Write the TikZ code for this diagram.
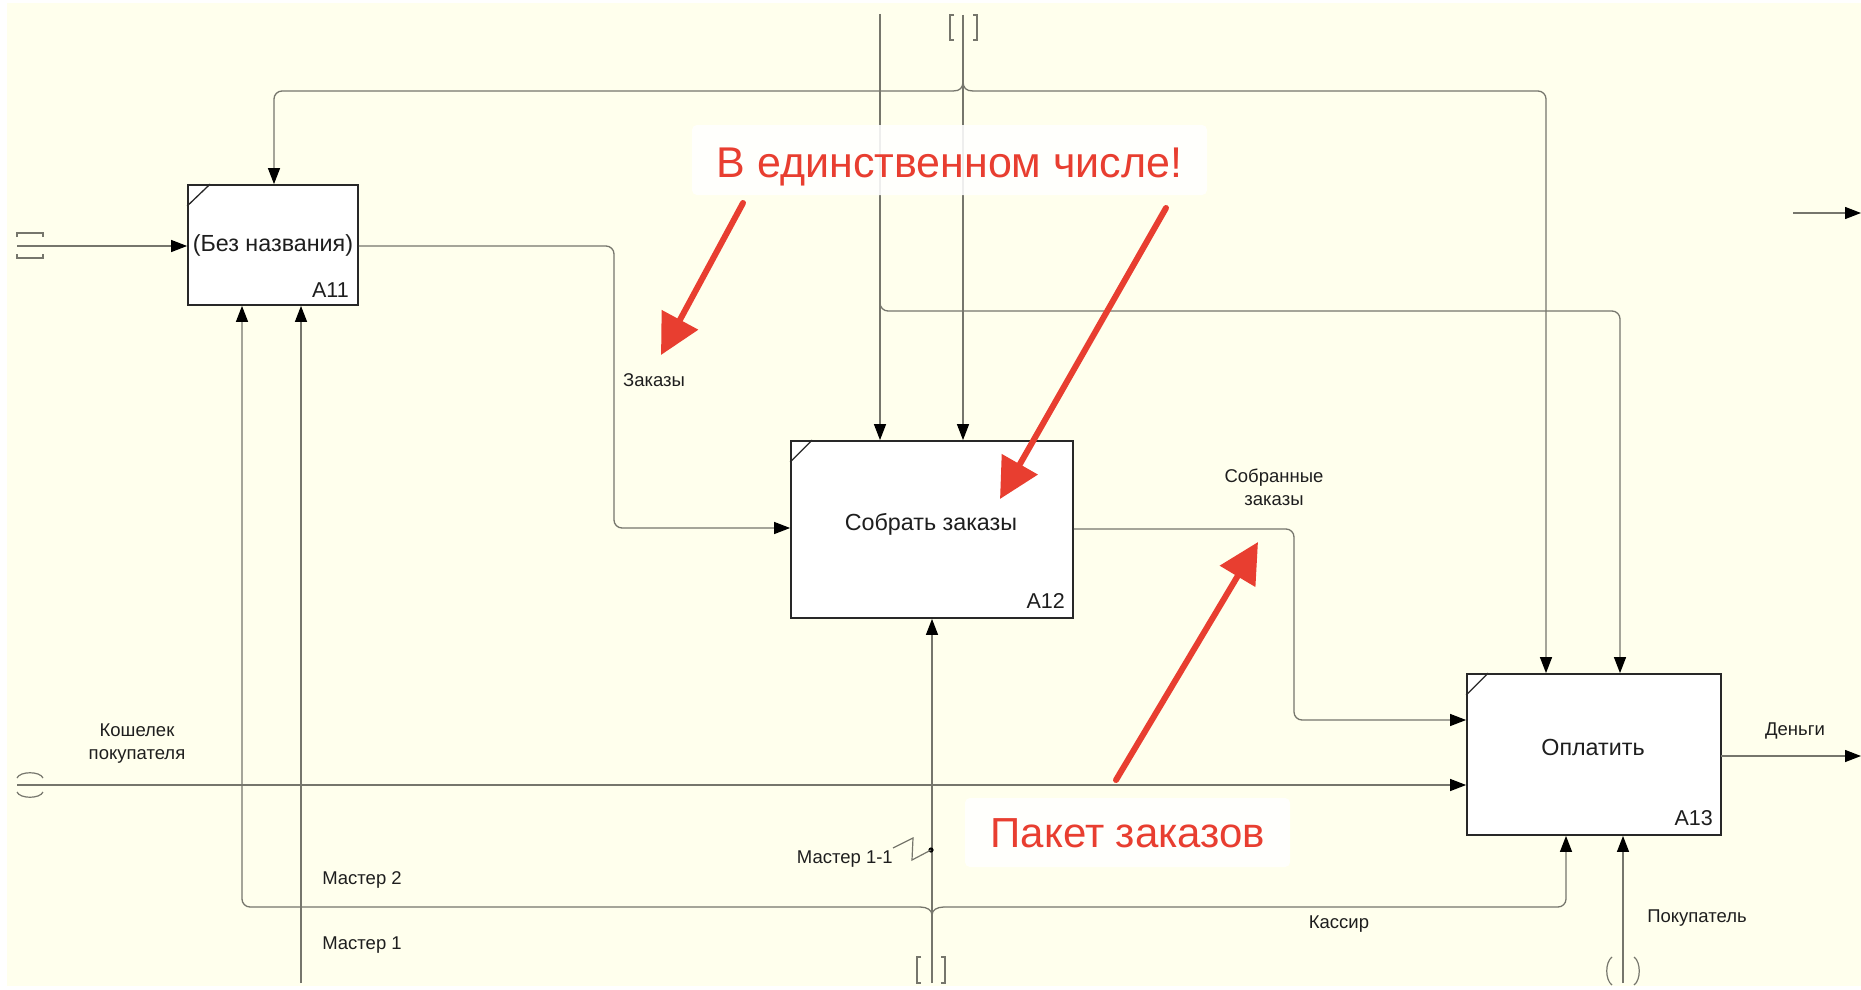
\documentclass[tikz,border=0pt]{standalone}
\usepackage{fontspec}
\setmainfont{Liberation Sans}
\usetikzlibrary{arrows.meta,calc}
\definecolor{cream}{RGB}{255,255,237}
\definecolor{linec}{RGB}{118,118,108}
\definecolor{boxc}{RGB}{40,40,40}
\definecolor{txtc}{RGB}{30,30,30}
\definecolor{redc}{RGB}{232,62,48}
\tikzset{
 fbox/.style={draw=boxc, line width=1.8pt, fill=white, inner sep=0pt},
 conn/.style={draw=linec, line width=1.3pt, rounded corners=8pt},
 arr/.style={-{Triangle[length=16pt,width=12pt,color=black]}},
 lbl/.style={font=\fontsize{18.5}{23}\selectfont, text=txtc, anchor=base, inner sep=0pt},
 btxt/.style={font=\fontsize{23.3}{28}\selectfont, text=txtc, anchor=base, inner sep=0pt},
 bnum/.style={font=\fontsize{21.5}{25}\selectfont, text=txtc, anchor=base east, inner sep=0pt},
 notebox/.style={fill=white, fill opacity=0.88, rounded corners=5pt, inner sep=0pt},
 notetxt/.style={font=\fontsize{42}{50}\selectfont, text=redc, anchor=base, inner sep=0pt},
 redarr/.style={draw=redc, line width=6pt, line cap=round, -{Triangle[length=40pt,width=40pt]}},
 tun/.style={draw=linec, line width=1.2pt},
}
\begin{document}
\begin{tikzpicture}[x=1pt,y=-1pt]
\useasboundingbox (0,0) rectangle (1861,990);
\fill[white] (0,0) rectangle (1861,990);
\fill[cream] (7,3) rectangle (1861,986);

% boxes
\node[fbox, minimum width=170pt, minimum height=120pt] (A11) at (273,245) {};
\node[fbox, minimum width=282pt, minimum height=177pt] (A12) at (932,529.5) {};
\node[fbox, minimum width=254pt, minimum height=161pt] (A13) at (1594,754.5) {};
\draw[boxc, line width=1.3pt] ([yshift=-22pt]A11.north west) -- ([xshift=23pt]A11.north west);
\draw[boxc, line width=1.3pt] ([yshift=-22pt]A12.north west) -- ([xshift=22pt]A12.north west);
\draw[boxc, line width=1.3pt] ([yshift=-22pt]A13.north west) -- ([xshift=22pt]A13.north west);
\node[btxt] (A11t) at (273,251) {(Без названия)};
\node[bnum] (A11n) at (349,297) {A11};
\node[btxt] (A12t) at (931,530) {Собрать заказы};
\node[bnum] (A12n) at (1065,608) {A12};
\node[btxt] (A13t) at (1593,755) {Оплатить};
\node[bnum] (A13n) at (1713,825) {A13};

% coordinates
\coordinate (inA) at (17,246);
\coordinate (topB) at (963,15);
\coordinate (fkT) at (963,81);
\coordinate (fkL) at (953,91);
\coordinate (fkR) at (973,91);
\coordinate (tL) at (274,91);
\coordinate (tR) at (1546,91);
\coordinate (tA) at (880,14);
\coordinate (brA) at (880,290);
\coordinate (brA1) at (880,311);
\coordinate (brA2) at (1620,311);
\coordinate (o1) at (614,246);
\coordinate (o1b) at (614,528);
\coordinate (o2) at (1294,529);
\coordinate (o2b) at (1294,720);
\coordinate (inW) at (17,785);
\coordinate (outD0) at (1721,756);
\coordinate (outD) at (1861,756);
\coordinate (dg1) at (1793,213);
\coordinate (dg2) at (1861,213);
\coordinate (m1) at (301,983);
\coordinate (bC) at (932,983);
\coordinate (fbT) at (932,915);
\coordinate (fbL) at (920,907);
\coordinate (fbR) at (944,907);
\coordinate (bL) at (242,907);
\coordinate (bR) at (1566,907);
\coordinate (bP) at (1623,983);
\coordinate (dot) at (931,850);
\coordinate (sq1) at (912,860);
\coordinate (sq2) at (913,838);
\coordinate (sq3) at (893,848);

% tunnels
\draw[tun] (17,237) -- (17,233) -- (43,233) -- (43,237);
\draw[tun] (17,254) -- (17,258) -- (43,258) -- (43,254);
\draw[tun] (954,15) -- (950,15) -- (950,40) -- (954,40);
\draw[tun] (973,15) -- (977,15) -- (977,40) -- (973,40);
\draw[tun] (921,957) -- (917,957) -- (917,983) -- (921,983);
\draw[tun] (941,957) -- (945,957) -- (945,983) -- (941,983);
\draw[tun] (17,778) .. controls (20,771) and (40,771) .. (43,778);
\draw[tun] (17,792) .. controls (20,799) and (40,799) .. (43,792);
\draw[tun] (1612,957) .. controls (1605,962) and (1605,980) .. (1612,985);
\draw[tun] (1634,957) .. controls (1641,962) and (1641,980) .. (1634,985);

% connectors
\draw[conn,arr] (inA) -- (inA -| A11.west);
\draw[conn,arr] (topB) -- (topB |- A12.north);
\draw[conn] (fkL) .. controls (960,91) and (963,88) .. (fkT);
\draw[conn] (fkT) .. controls (963,88) and (966,91) .. (fkR);
\draw[conn,arr] (fkL) -- (tL) -- (tL |- A11.north);
\draw[conn,arr] (fkR) -- (tR) -- (tR |- A13.north);
\draw[conn,arr] (tA) -- (tA |- A12.north);
\draw[conn,arr] (brA) -- (brA1) -- (brA2) -- (brA2 |- A13.north);
\draw[conn,arr] (A11.east |- inA) -- (o1) -- (o1b) -- (o1b -| A12.west);
\draw[conn,arr] (A12.east |- o2) -- (o2) -- (o2b) -- (o2b -| A13.west);
\draw[conn,arr] (inW) -- (inW -| A13.west);
\draw[conn,arr] (outD0) -- (outD);
\draw[conn,arr] (dg1) -- (dg2);
\draw[conn,arr] (m1) -- (m1 |- A11.south);
\draw[conn,arr] (bC) -- (bC |- A12.south);
\draw[conn] (fbL) .. controls (927,907) and (932,910) .. (fbT);
\draw[conn] (fbT) .. controls (932,910) and (937,907) .. (fbR);
\draw[conn,arr] (fbL) -- (bL) -- (bL |- A11.south);
\draw[conn,arr] (fbR) -- (bR) -- (bR |- A13.south);
\draw[conn,arr] (bP) -- (bP |- A13.south);
\fill[black] (dot) circle (2.6pt);
\draw[linec, line width=1.2pt] (dot) -- (sq1) -- (sq2) -- (sq3);

% labels
\node[lbl] (lz) at (654,386) {Заказы};
\node[lbl] (ls1) at (1274,482) {Собранные};
\node[lbl] (ls2) at (1274,505) {заказы};
\node[lbl] (lk1) at (137,736) {Кошелек};
\node[lbl] (lk2) at (137,759) {покупателя};
\node[lbl] (lm2) at (362,884) {Мастер 2};
\node[lbl] (lm1) at (362,949) {Мастер 1};
\node[lbl,anchor=base east] (lm11) at (893,863) {Мастер 1-1};
\node[lbl] (lkas) at (1339,928) {Кассир};
\node[lbl] (lpok) at (1697,922) {Покупатель};
\node[lbl] (lden) at (1795,735) {Деньги};

% notes
\node[notebox, minimum width=515pt, minimum height=70pt] (nb1) at (949.5,160) {};
\node[notetxt, font=\fontsize{43}{50}\selectfont] (nt1) at (949.5,177) {В единственном числе!};
\node[notebox, minimum width=325pt, minimum height=69pt] (nb2) at (1127.5,832.5) {};
\node[notetxt] (nt2) at (1128,847) {Пакет заказов};

\coordinate (r1a) at (743,203);
\coordinate (r1b) at (661,355);
\coordinate (r2a) at (1166,208);
\coordinate (r2b) at (1000,499);
\coordinate (r3a) at (1116,780);
\coordinate (r3b) at (1258,542);
\draw[redarr] (r1a) -- (r1b);
\draw[redarr] (r2a) -- (r2b);
\draw[redarr] (r3a) -- (r3b);
\end{tikzpicture}
\end{document}
